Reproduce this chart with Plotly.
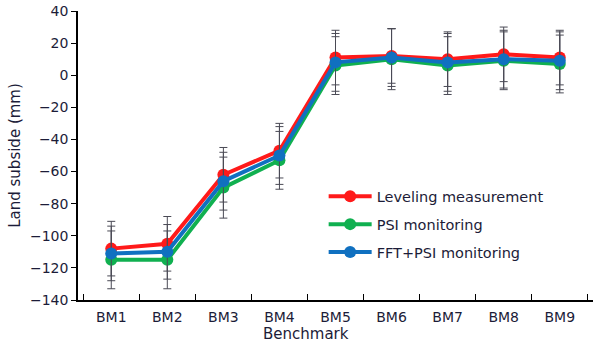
import plotly.graph_objects as go

benchmarks = ["BM1", "BM2", "BM3", "BM4", "BM5", "BM6", "BM7", "BM8", "BM9"]

leveling = [-108, -105, -62, -47, 11, 12, 10, 13, 11]
psi = [-115, -115, -70, -53, 6, 10, 6, 9, 7]
fft_psi = [-111, -110, -66, -50, 8, 11, 8, 10, 9]

leveling_err = [17, 17, 17, 17, 17, 17, 17, 17, 17]
psi_err = [18, 18, 19, 18, 18, 19, 18, 18, 18]
fft_psi_err = [17, 17, 18, 18, 18, 18, 18, 18, 18]

series = [
    ("Leveling measurement", leveling, leveling_err, "#ff1a1a"),
    ("PSI monitoring", psi, psi_err, "#10b050"),
    ("FFT+PSI monitoring", fft_psi, fft_psi_err, "#1070c0"),
]

fig = go.Figure()

for name, values, errs, color in series:
    fig.add_trace(
        go.Scatter(
            x=benchmarks,
            y=values,
            name=name,
            legendgroup=name,
            mode="lines+markers",
            line=dict(color=color, width=4),
            marker=dict(color=color, size=12),
            error_y=dict(type="data", array=errs, color="#4a4a55", thickness=1, width=4),
        )
    )

fig.update_layout(
    width=600,
    height=344,
    margin=dict(l=78, r=7, t=11, b=44),
    paper_bgcolor="white",
    plot_bgcolor="white",
    font=dict(family="DejaVu Sans, sans-serif", size=14, color="#1c1c38"),
    legend=dict(
        x=0.477, y=0.414, xanchor="left", yanchor="top",
        bgcolor="rgba(0,0,0,0)", font=dict(size=14.5), itemwidth=43,
        tracegroupgap=6,
    ),
    xaxis=dict(
        showline=True, linecolor="black", linewidth=1.5,
        ticks="inside", tickson="boundaries", ticklen=6, tickcolor="black",
        ticklabelstandoff=3,
        showgrid=False, mirror=False, automargin=False,
    ),
    yaxis=dict(
        title=dict(text="Land subside (mm)", standoff=6, font=dict(size=15)),
        range=[-140, 40], dtick=20,
        showline=True, linecolor="black", linewidth=1.5,
        ticks="outside", ticklen=5, tickcolor="black",
        showgrid=False, zeroline=False, automargin=False,
    ),
)

# x title sits a bit left of centre in the original
fig.add_annotation(
    text="Benchmark", xref="paper", yref="paper", x=0.443, y=-0.117,
    xanchor="center", yanchor="middle", showarrow=False, font=dict(size=15),
)

# the page adds a default body margin; drop it so the figure sits at 0,0
fig.write_html(
    "out.html",
    config={"displayModeBar": False},
    post_script="document.body.style.margin='0';document.body.style.overflow='hidden';",
)
